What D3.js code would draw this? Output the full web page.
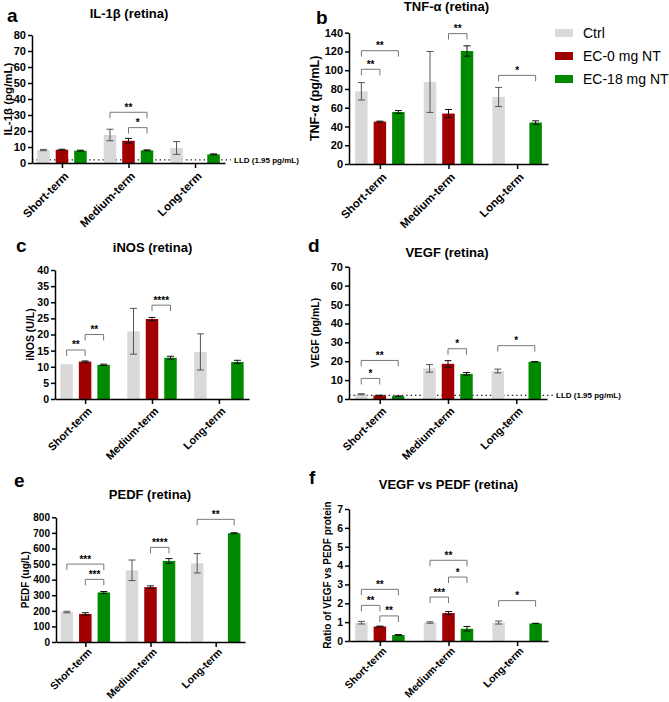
<!DOCTYPE html>
<html>
<head>
<meta charset="utf-8">
<script src="https://cdn.jsdelivr.net/npm/d3@7"></script>
<style>
  html, body { margin: 0; padding: 0; background: #fff; }
  svg { display: block; font-family: "Liberation Sans", Arial, sans-serif; }
</style>
</head>
<body>
<svg id="chart" width="669" height="702"></svg>
<script>
// ---------- DATA ----------
const categories = ["Short-term", "Medium-term", "Long-term"];
const series = ["Ctrl", "EC-0 mg NT", "EC-18 mg NT"];
const seriesColors = ["#d9d9d9", "#a00000", "#008a00"];

// IL-1β (pg/mL) : rows = categories, cols = series
const il1bMean = [[8.1, 8.3, 7.7], [17.5, 13.9, 7.9], [9.4, null, 5.4]];
const il1bErr  = [[0.4, 0.3, 0.3], [3.6, 1.5, 0.3], [4.0, null, 0.3]];
const il1bSig  = [[1, 0, 2, 31.7, "**"], [1, 1, 2, 22.1, "*"]];

// TNF-α (pg/mL)
const tnfMean = [[77.5, 45.2, 55.5], [87.5, 53.8, 120.5], [71.5, null, 44.2]];
const tnfErr  = [[9.3, 0.5, 1.5], [32.5, 4.3, 5.5], [10.2, null, 1.8]];
const tnfSig  = [[0, 0, 1, 101, "**"], [0, 0, 2, 120.8, "**"], [1, 1, 2, 139, "**"], [2, 0, 2, 94.5, "*"]];

// iNOS (U/L)
const inosMean = [[10.8, 11.6, 10.6], [21.0, 24.8, 12.8], [14.6, null, 11.5]];
const inosErr  = [[0, 0.2, 0.2], [7.1, 0.5, 0.45], [5.6, null, 0.5]];
const inosSig  = [[0, 0, 1, 15.2, "**"], [0, 1, 2, 20.0, "**"], [1, 1, 2, 29.1, "****"]];

// VEGF (pg/mL)
const vegfMean = [[2.5, 1.9, 1.5], [16.2, 18.6, 13.3], [14.8, null, 19.7]];
const vegfErr  = [[0.3, 0.1, 0.1], [2.0, 1.7, 0.7], [1.0, null, 0.1]];
const vegfSig  = [[0, 0, 1, 10.9, "*"], [0, 0, 2, 20.4, "**"], [1, 1, 2, 26.6, "*"], [2, 0, 2, 28.2, "*"]];

// PEDF (ug/L)
const pedfMean = [[192, 180, 318], [460, 352, 520], [505, null, 698]];
const pedfErr  = [[5, 8, 6], [66, 8, 15], [62, null, 3]];
const pedfSig  = [[0, 0, 2, 500, "***"], [0, 1, 2, 402, "***"], [1, 1, 2, 607, "****"], [2, 0, 2, 787, "**"]];

// Ratio VEGF vs PEDF
const ratioMean = [[0.97, 0.77, 0.32], [0.98, 1.48, 0.65], [0.98, null, 0.93]];
const ratioErr  = [[0.07, 0.02, 0.02], [0.04, 0.08, 0.12], [0.08, null, 0.01]];
const ratioSig  = [[0, 0, 1, 1.89, "**"], [0, 0, 2, 2.74, "**"], [0, 1, 2, 1.33, "**"],
                   [1, 0, 1, 2.33, "***"], [1, 1, 2, 3.39, "*"], [1, 0, 2, 4.28, "**"], [2, 0, 2, 2.14, "*"]];

const lldValue = 1.95;
const lldLabel = "LLD (1.95 pg/mL)";

// ---------- LAYOUT ----------
const panels = [
  {letter: "a", title: "IL-1β (retina)", ylab: "IL-1β (pg/mL)", mean: il1bMean, err: il1bErr, sig: il1bSig,
   max: 80, step: 10, x0: 32, x1: 225, yTop: 35, yBot: 163, lld: true,
   lx: 7, ly: 22, tx: 129, ty: 17.5, ylx: 8, ylFont: 11.5, tickFont: 11, xlFont: 11.5, xlDy: 11},
  {letter: "b", title: "TNF-α (retina)", ylab: "TNF-α (pg/mL)", mean: tnfMean, err: tnfErr, sig: tnfSig,
   max: 140, step: 20, x0: 349, x1: 548, yTop: 32.7, yBot: 164, lld: false,
   lx: 316, ly: 24, tx: 446.5, ty: 11, ylx: 315, ylFont: 12.5, tickFont: 11, xlFont: 11.5, xlDy: 11},
  {letter: "c", title: "iNOS (retina)", ylab: "iNOS (U/L)", mean: inosMean, err: inosErr, sig: inosSig,
   max: 40, step: 5, x0: 55, x1: 249, yTop: 270, yBot: 399, lld: false,
   lx: 16, ly: 252, tx: 152.5, ty: 252, ylx: 30, ylFont: 10.5, tickFont: 10.5, xlFont: 11, xlDy: 10},
  {letter: "d", title: "VEGF (retina)", ylab: "VEGF (pg/mL)", mean: vegfMean, err: vegfErr, sig: vegfSig,
   max: 70, step: 10, x0: 349, x1: 547, yTop: 266.7, yBot: 399, lld: true,
   lx: 308, ly: 252, tx: 447, ty: 256.5, ylx: 315, ylFont: 10.5, tickFont: 11, xlFont: 11, xlDy: 10},
  {letter: "e", title: "PEDF (retina)", ylab: "PEDF (ug/L)", mean: pedfMean, err: pedfErr, sig: pedfSig,
   max: 800, step: 100, x0: 56, x1: 245, yTop: 517.3, yBot: 642, lld: false,
   lx: 14, ly: 487, tx: 150, ty: 499, ylx: 25, ylFont: 10, tickFont: 10, xlFont: 10.5, xlDy: 8},
  {letter: "f", title: "VEGF vs PEDF (retina)", ylab: "Ratio of VEGF vs PEDF protein", mean: ratioMean, err: ratioErr, sig: ratioSig,
   max: 7, step: 1, x0: 349, x1: 548, yTop: 509, yBot: 641, lld: false,
   lx: 309, ly: 484, tx: 448.5, ty: 489, ylx: 327, ylFont: 10, tickFont: 10.5, xlFont: 10.5, xlDy: 8}
];

const svg = d3.select("#chart");
svg.append("rect").attr("width", 669).attr("height", 702).attr("fill", "#fff");

panels.forEach(p => {
  const g = svg.append("g");
  const y = d3.scaleLinear().domain([0, p.max]).range([p.yBot, p.yTop]);
  const x = d3.scalePoint().domain(categories).range([p.x0, p.x1]).padding(0.45);
  const inner = d3.scaleBand().domain(series).range([-24.75, 24.75]).paddingInner(0.324).paddingOuter(0);
  const bw = inner.bandwidth();
  const cx = (ci, si) => x(categories[ci]) + inner(series[si]) + bw / 2;

  // panel letter and title
  g.append("text").attr("x", p.lx).attr("y", p.ly).text(p.letter)
    .attr("font-size", 19).attr("font-weight", "bold").attr("fill", "#000");
  g.append("text").attr("x", p.tx).attr("y", p.ty).text(p.title)
    .attr("text-anchor", "middle").attr("font-size", 13).attr("font-weight", "bold").attr("fill", "#000");

  // LLD dotted line (behind bars)
  if (p.lld) {
    g.append("line").attr("x1", p.x0).attr("x2", p.x1 + 6)
      .attr("y1", y(lldValue)).attr("y2", y(lldValue))
      .attr("stroke", "#222").attr("stroke-width", 1.3).attr("stroke-dasharray", "1.4,3");
    g.append("text").attr("x", p.x1 + 9).attr("y", y(lldValue)).attr("dy", "0.35em")
      .text(lldLabel).attr("font-size", 8).attr("font-weight", "bold").attr("fill", "#000");
  }

  // bars
  const flat = [];
  p.mean.forEach((row, ci) => row.forEach((v, si) => {
    if (v !== null) flat.push({ci, si, v, e: p.err[ci][si]});
  }));
  g.selectAll("rect.bar").data(flat).join("rect").attr("class", "bar")
    .attr("x", d => x(categories[d.ci]) + inner(series[d.si]))
    .attr("width", bw)
    .attr("y", d => y(d.v))
    .attr("height", d => p.yBot - y(d.v))
    .attr("fill", d => seriesColors[d.si]);

  // error bars
  const eb = g.selectAll("g.err").data(flat.filter(d => d.e > 0)).join("g").attr("class", "err")
    .attr("stroke", d => d.si === 0 ? "#555" : "#111").attr("stroke-width", 1);
  eb.append("line").attr("x1", d => cx(d.ci, d.si)).attr("x2", d => cx(d.ci, d.si))
    .attr("y1", d => y(d.v - d.e)).attr("y2", d => y(d.v + d.e));
  eb.append("line").attr("x1", d => cx(d.ci, d.si) - 3.5).attr("x2", d => cx(d.ci, d.si) + 3.5)
    .attr("y1", d => y(d.v + d.e)).attr("y2", d => y(d.v + d.e));
  eb.append("line").attr("x1", d => cx(d.ci, d.si) - 3.5).attr("x2", d => cx(d.ci, d.si) + 3.5)
    .attr("y1", d => y(d.v - d.e)).attr("y2", d => y(d.v - d.e));

  // y axis
  const yAxis = d3.axisLeft(y).tickValues(d3.range(0, p.max + p.step / 2, p.step))
    .tickSize(4).tickSizeOuter(0).tickPadding(2).tickFormat(d3.format("d"));
  const ya = g.append("g").attr("transform", `translate(${p.x0},0)`).call(yAxis);
  ya.select(".domain").attr("stroke", "#000").attr("stroke-width", 1.5);
  ya.selectAll(".tick line").attr("stroke", "#000").attr("stroke-width", 1.5);
  ya.selectAll(".tick text").attr("font-size", p.tickFont).attr("font-weight", "bold")
    .attr("fill", "#000").attr("font-family", "Liberation Sans, Arial, sans-serif");

  // x axis
  const xAxis = d3.axisBottom(x).tickSize(5).tickSizeOuter(0);
  const xa = g.append("g").attr("transform", `translate(0,${p.yBot})`).call(xAxis);
  xa.select(".domain").attr("stroke", "#000").attr("stroke-width", 1.5);
  xa.selectAll(".tick line").attr("stroke", "#000").attr("stroke-width", 1.5);
  xa.selectAll(".tick text")
    .attr("x", 0).attr("y", 0).attr("dy", "0.35em")
    .attr("text-anchor", "end")
    .attr("transform", `translate(4,${p.xlDy}) rotate(-45)`)
    .attr("font-size", p.xlFont).attr("font-weight", "bold").attr("fill", "#000")
    .attr("font-family", "Liberation Sans, Arial, sans-serif");

  // y axis title
  const ym = (p.yTop + p.yBot) / 2;
  g.append("text").attr("transform", `translate(${p.ylx},${ym}) rotate(-90)`)
    .attr("text-anchor", "middle").attr("dy", "0.35em")
    .text(p.ylab).attr("font-size", p.ylFont).attr("font-weight", "bold").attr("fill", "#000");

  // significance brackets
  p.sig.forEach(([ci, a, b, v, t]) => {
    const xa1 = cx(ci, a), xb1 = cx(ci, b), yv = y(v);
    g.append("path").attr("d", `M${xa1},${yv + 6}V${yv}H${xb1}V${yv + 6}`)
      .attr("fill", "none").attr("stroke", "#777").attr("stroke-width", 1);
    g.append("text").attr("x", (xa1 + xb1) / 2).attr("y", yv - 1.5).text(t)
      .attr("text-anchor", "middle").attr("font-size", 10).attr("font-weight", "bold").attr("fill", "#000");
  });
});

// legend
const lg = svg.append("g").attr("transform", "translate(555,33)");
series.forEach((s, i) => {
  lg.append("rect").attr("x", 0).attr("y", i * 23 - 4).attr("width", 18).attr("height", 8).attr("fill", seriesColors[i]);
  lg.append("text").attr("x", 28).attr("y", i * 23).attr("dy", "0.36em").text(s)
    .attr("font-size", 14).attr("fill", "#000");
});
</script>
</body>
</html>
